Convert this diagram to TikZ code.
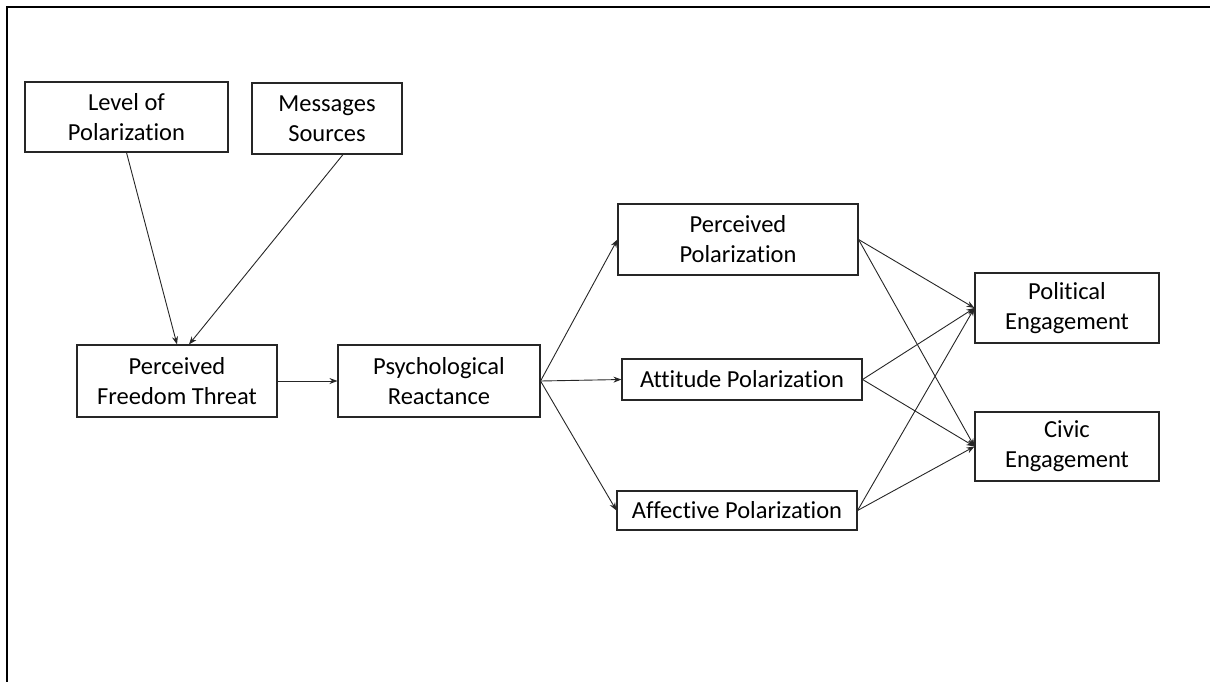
\documentclass[tikz,border=0pt]{standalone}
\usepackage{fontspec}
\setmainfont[Ligatures={NoCommon}]{Carlito}
\usetikzlibrary{arrows.meta,calc}
\tikzset{
  box/.style={draw=black!85, line width=1.1pt, fill=white, align=center, inner sep=0pt,
    font=\fontsize{24.5}{30}\selectfont, text=black},
  conn/.style={draw=black!85, line width=0.9pt, -{Stealth[length=8pt,width=6pt]}}
}
\begin{document}
\begin{tikzpicture}[x=1pt,y=-1pt]
\useasboundingbox (0,0) rectangle (1210,681);
\clip (0,0) rectangle (1210,681);
\draw[line width=2.2pt, black] (7,7) rectangle (1230,700);
\node[box, minimum width=203pt, minimum height=70pt] (lev) at (126.5,117) {Level of\\Polarization};
\node[box, minimum width=150pt, minimum height=71pt] (msg) at (327,118.5) {Messages\\Sources};
\node[box, minimum width=200pt, minimum height=72pt] (pft) at (177,381) {Perceived\\Freedom Threat};
\node[box, minimum width=202pt, minimum height=72pt] (pr) at (439,381) {Psychological\\Reactance};
\node[box, minimum width=240pt, minimum height=71pt] (pp) at (738,239.5) {Perceived\\Polarization};
\node[box, minimum width=240pt, minimum height=41pt] (ap) at (742,379.5) {Attitude Polarization};
\node[box, minimum width=240pt, minimum height=39pt] (afp) at (737,510.5) {Affective Polarization};
\node[box, minimum width=184pt, minimum height=70pt] (pe) at (1067,308) {Political\\Engagement};
\node[box, minimum width=184pt, minimum height=69pt] (ce) at (1067,446.5) {Civic\\Engagement};
\coordinate (msgout) at ($(msg.south)+(16,0)$);
\coordinate (pftinA) at ($(pft.north)+(0,0)$);
\coordinate (pftinB) at ($(pft.north)+(12,0)$);
\draw[conn] (lev.south) -- (pftinA);
\draw[conn] (msgout) -- (pftinB);
\draw[conn] (pft.east) -- (pr.west);
\draw[conn] (pr.east) -- (pp.west);
\draw[conn] (pr.east) -- (ap.west);
\draw[conn] (pr.east) -- (afp.west);
\draw[conn] (pp.east) -- (pe.west);
\draw[conn] (pp.east) -- (ce.west);
\draw[conn] (ap.east) -- (pe.west);
\draw[conn] (ap.east) -- (ce.west);
\draw[conn] (afp.east) -- (pe.west);
\draw[conn] (afp.east) -- (ce.west);
\end{tikzpicture}
\end{document}
